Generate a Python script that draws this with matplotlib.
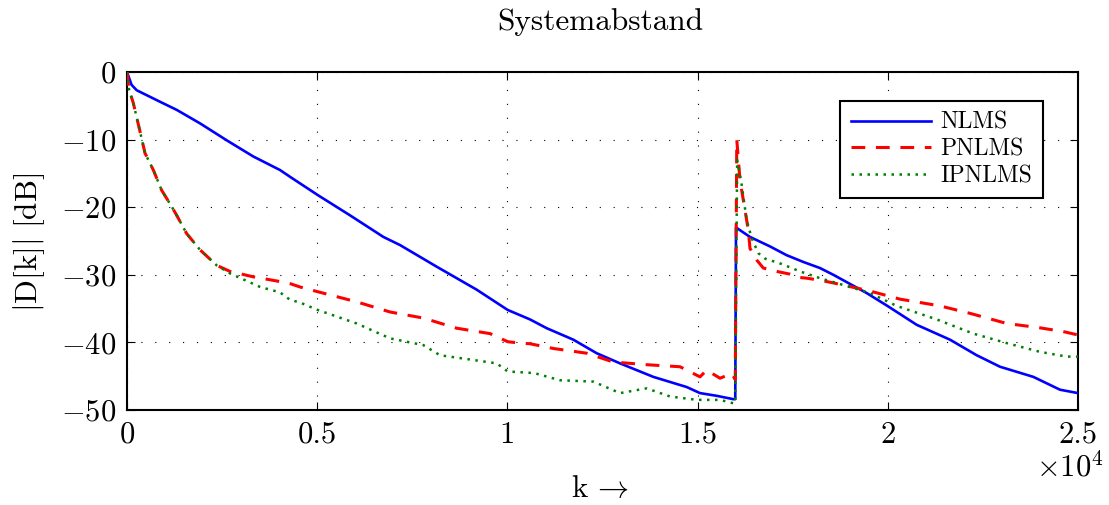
import matplotlib
matplotlib.use("Agg")
import matplotlib.pyplot as plt
import numpy as np

# ---------------- data ----------------
k_nlms = [0, 120, 255, 867, 1306, 1920, 2620, 3321, 4022, 4285, 5013, 5862, 6740, 7177,
          8141, 9192, 10008, 10594, 11033, 11734, 12347, 12960, 13836, 14712, 15063, 15500,
          15940, 15990, 16010, 16377, 16903, 17341, 17779, 18217, 18568, 19444, 19989,
          20760, 21636, 22337, 22950, 23826, 24527, 25000]
db_nlms = [0, -1.9, -2.7, -4.4, -5.6, -7.6, -10.1, -12.5, -14.5, -15.5, -18.2, -21.2, -24.4, -25.6,
           -28.8, -32.2, -35.2, -36.6, -37.9, -39.6, -41.6, -43.1, -45.1, -46.6, -47.5, -47.9,
           -48.4, -48.4, -23.0, -24.4, -25.8, -27.1, -28.1, -29.0, -30.0, -32.7, -34.6,
           -37.4, -39.6, -41.9, -43.6, -45.1, -47.0, -47.5]

k_pnlms = [0, 50, 166, 342, 473, 692, 912, 1174, 1306, 1568, 1919, 2357, 2708, 3321, 4022,
           4285, 4548, 5013, 6038, 6914, 7790, 8667, 9543, 10008, 10331, 10594, 11208, 12084,
           12785, 13661, 14537, 15063, 15238, 15589, 15896, 15990, 16030, 16114, 16201, 16333,
           16377, 16552, 16727, 17078, 17428, 17692, 17866, 18217, 18568, 19532, 20320, 21372,
           22160, 23125, 23950, 24614, 25000]
db_pnlms = [0, -2.5, -4.6, -8.8, -12.0, -14.5, -17.5, -19.9, -21.2, -23.9, -26.3, -28.6, -29.5, -30.3, -31.0,
            -31.3, -31.8, -32.5, -34.0, -35.5, -36.4, -37.9, -38.7, -39.9, -40.1, -40.2, -40.9, -41.6,
            -42.9, -43.3, -43.6, -45.1, -44.1, -45.3, -44.6, -45.5, -10.0, -16.0, -18.9, -23.4,
            -26.1, -27.8, -29.0, -29.5, -29.9, -30.4, -30.5, -30.8, -31.2, -32.4, -33.6, -34.6,
            -35.7, -37.2, -37.8, -38.4, -38.9]

k_ipnlms = [0, 50, 166, 342, 473, 692, 912, 1174, 1306, 1568, 1919, 2357, 2708, 3500, 4022,
            4285, 4548, 5013, 6038, 6914, 7790, 8228, 9104, 9718, 10008, 10594, 10682, 11383,
            12259, 12960, 13661, 14274, 14975, 15589, 15939, 15990, 16040, 16160, 16247, 16291,
            16422, 16597, 16772, 17210, 17692, 18217, 19006, 19532, 20233, 21285, 22248, 23125,
            24001, 24702, 25000]
db_ipnlms = [0, -2.5, -4.6, -8.8, -12.0, -14.5, -17.5, -19.9, -21.2, -23.9, -26.3, -28.6, -29.8, -31.8, -32.6,
             -33.7, -34.1, -35.2, -37.2, -39.4, -40.4, -41.9, -42.6, -43.1, -44.3, -44.5, -44.5, -45.6,
             -45.8, -47.5, -46.8, -48.0, -48.5, -48.5, -49.0, -49.0, -13.0, -16.7, -20.2, -21.9,
             -24.6, -26.8, -27.6, -28.4, -29.5, -30.5, -31.8, -32.7, -34.6, -36.6, -38.7, -40.1,
             -41.4, -42.1, -42.1]

series_names = ["NLMS", "PNLMS", "IPNLMS"]
x_ticks = [0, 5000, 10000, 15000, 20000, 25000]
x_tick_labels = ["0", "0.5", "1", "1.5", "2", "2.5"]
y_ticks = [-50, -40, -30, -20, -10, 0]

# ---------------- style ----------------
plt.rcParams['font.family'] = ['cmr10', 'DejaVu Serif']
plt.rcParams['mathtext.fontset'] = 'cm'
plt.rcParams['axes.unicode_minus'] = False

W, H = 1109, 505
fig = plt.figure(figsize=(W / 100, H / 100), dpi=100)
ax = fig.add_axes([127 / W, 1 - 410 / H, (1078 - 127) / W, (410 - 72) / H])

ax.plot(k_nlms, db_nlms, color=(0, 0, 1), lw=1.9, label=series_names[0], zorder=3)
ax.plot(k_pnlms, db_pnlms, color=(1, 0, 0), lw=2.2, dashes=(4.5, 3.5), label=series_names[1], zorder=4)
ax.plot(k_ipnlms, db_ipnlms, color=(0, 0.5, 0), lw=1.8, dashes=(1, 2.2), label=series_names[2], zorder=5)

ax.set_xlim(0, 25000)
ax.set_ylim(-50, 0)
ax.set_xticks(x_ticks)
ax.set_xticklabels(x_tick_labels)
ax.set_yticks(y_ticks)
ax.set_yticklabels([r"$%d$" % v for v in y_ticks])

ax.tick_params(direction='in', length=6, width=0.8, top=True, right=True,
               labelsize=22, pad=8)
for s in ax.spines.values():
    s.set_linewidth(1.5)
ax.grid(True, color='black', lw=0.8, linestyle=(0, (1, 11.5)))

leg = ax.legend(loc='upper right', bbox_to_anchor=(0.963, 0.914), borderaxespad=0,
                fontsize=17, handlelength=3.4, handletextpad=0.4, labelspacing=0.2,
                fancybox=False, framealpha=1, edgecolor='black', borderpad=0.45)
leg.get_frame().set_linewidth(1.5)

fig.text(600 / W, 1 - 22 / H, "Systemabstand", ha='center', va='center', fontsize=22.5)
fig.text(600 / W, 1 - 489 / H, r"k$\,\rightarrow$", ha='center', va='center', fontsize=22.5)
fig.text(29 / W, 1 - 242 / H, r"$\mathrm{|D[k]|\ [dB]}$", ha='center', va='center',
         rotation=90, fontsize=22.5)
fig.text(1104 / W, 1 - 467 / H, r"$\times10^4$", ha='right', va='center', fontsize=22)

fig.savefig("out.png", dpi=100)
